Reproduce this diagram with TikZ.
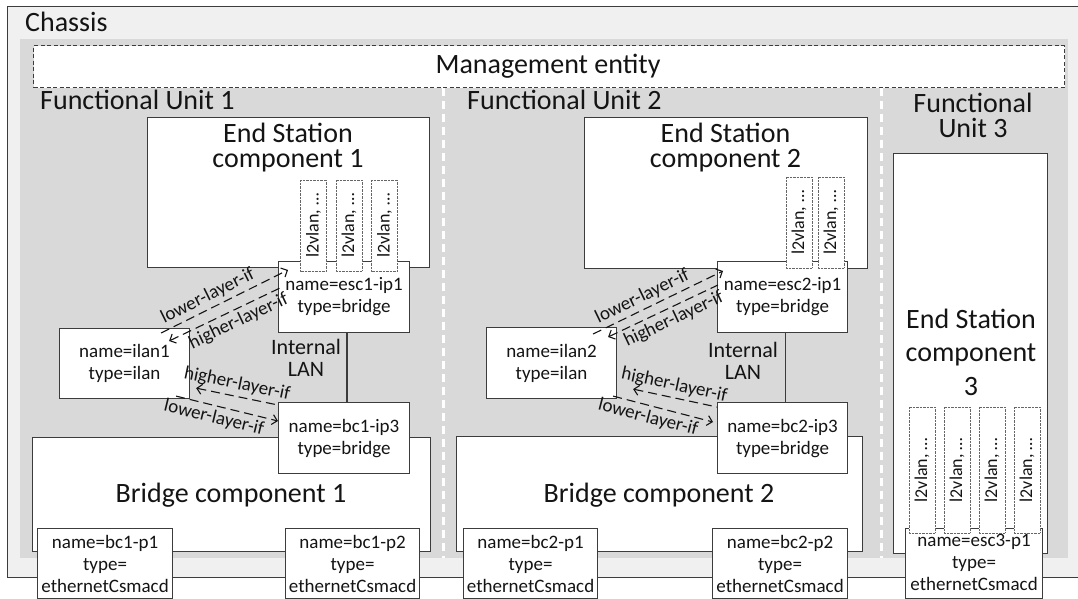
\documentclass[tikz,border=0pt]{standalone}
\usepackage{fontspec}
\setmainfont{Carlito}
\usetikzlibrary{arrows.meta}
\definecolor{chassisfill}{HTML}{F0F0F0}
\definecolor{fugray}{HTML}{D9D9D9}
\definecolor{edge}{HTML}{3C3C3C}
\definecolor{ink}{HTML}{141414}
\begin{document}
\begin{tikzpicture}[x=1pt,y=-1pt,
  area/.style={anchor=north west, inner sep=0pt},
  box/.style={draw=edge, fill=white, line width=1.1pt, inner sep=0pt, align=center, text=ink},
  port/.style={box, anchor=north west, font=\fontsize{19}{22}\selectfont},
  bigtxt/.style={inner sep=0pt, text=ink, align=center, font=\fontsize{28}{25}\selectfont},
  lantxt/.style={inner sep=0pt, text=ink, align=center, font=\fontsize{22}{22}\selectfont},
  vlan/.style={draw=black!60, dash pattern=on 0.7pt off 0.7pt, line width=0.8pt, fill=white,
               rotate=90, inner sep=0pt, text=ink, font=\fontsize{18}{20}\selectfont,
               minimum height=26pt},
  sep/.style={draw=white, line width=3pt, dash pattern=on 8pt off 5pt},
  lanline/.style={draw=edge, line width=1.2pt},
  conn/.style={draw=ink, line width=1.1pt, dash pattern=on 9pt off 5pt},
  tipend/.style={-{Straight Barb[length=5pt,width=10pt]}},
  tipstart/.style={{Straight Barb[length=5pt,width=10pt]}-},
  lbl/.style={sloped, inner sep=3.5pt, text=ink, font=\fontsize{19}{22}\selectfont}
]
\useasboundingbox (0,0) rectangle (1078,599);

% chassis and functional unit area
\node[area, draw=edge, line width=1.2pt, fill=chassisfill, minimum width=1090pt, minimum height=571pt] (chassis) at (7,6) {};
\node[area, fill=fugray, minimum width=1048pt, minimum height=519pt] (fuarea) at (20,39) {};
\node[anchor=base west, inner sep=0pt, text=ink, font=\fontsize{28}{30}\selectfont] (chassislbl) at (25,32) {Chassis};

% management entity
\node[area, draw=edge, fill=white, line width=1.1pt, dash pattern=on 4pt off 2.5pt,
      minimum width=1031pt, minimum height=42pt] (mgmt) at (33,45) {};
\node[anchor=base, inner sep=0pt, text=ink, font=\fontsize{28}{30}\selectfont] (mgmtlbl) at (548,74) {Management entity};

% separators between functional units
\draw[sep] (mgmt.south -| 443,0) -- (fuarea.south -| 443,0);
\draw[sep] (mgmt.south -| 881,0) -- (fuarea.south -| 881,0);

% functional unit labels
\node[anchor=base west, inner sep=0pt, text=ink, font=\fontsize{28}{30}\selectfont] (fu1lbl) at (40,110) {Functional Unit 1};
\node[anchor=base west, inner sep=0pt, text=ink, font=\fontsize{28}{30}\selectfont] (fu2lbl) at (467,110) {Functional Unit 2};
\node[bigtxt] (fu3lbl) at (973,115.7) {Functional\\Unit 3};

% end station components
\node[box, anchor=north west, minimum width=282pt, minimum height=150pt] (es1) at (147,117) {};
\node[bigtxt] (es1lbl) at (288,147.5) {End Station\\component 1};
\node[box, anchor=north west, minimum width=283pt, minimum height=151pt] (es2) at (584,117) {};
\node[bigtxt] (es2lbl) at (725.5,147.5) {End Station\\component 2};
\node[box, anchor=north west, minimum width=154pt, minimum height=400pt] (es3) at (893,153) {};
\node[bigtxt, font=\fontsize{28}{33.5}\selectfont] (es3lbl) at (971,352) {End Station\\component\\3};

% bridge components
\node[box, anchor=north west, minimum width=398pt, minimum height=114pt] (brc1) at (32,437) {};
\node[anchor=base, inner sep=0pt, text=ink, font=\fontsize{28}{30}\selectfont] (brc1lbl) at (231,502) {Bridge component 1};
\node[box, anchor=north west, minimum width=406pt, minimum height=115pt] (brc2) at (456,436) {};
\node[anchor=base, inner sep=0pt, text=ink, font=\fontsize{28}{30}\selectfont] (brc2lbl) at (659,502) {Bridge component 2};

% ports FU1
\node[port, minimum width=131pt, minimum height=71pt] (esc1) at (278,261) {name=esc1-ip1\\type=bridge};
\node[port, minimum width=131pt, minimum height=71pt] (bc1ip3) at (278,402) {name=bc1-ip3\\type=bridge};
\node[port, minimum width=130pt, minimum height=70pt] (ilan1) at (59,328) {name=ilan1\\type=ilan};
\node[port, minimum width=135pt, minimum height=70pt] (bc1p1) at (37,528) {name=bc1-p1\\type=\\ethernetCsmacd};
\node[port, minimum width=134pt, minimum height=70pt] (bc1p2) at (285,528) {name=bc1-p2\\type=\\ethernetCsmacd};

% ports FU2
\node[port, minimum width=130pt, minimum height=71pt] (esc2) at (717,261) {name=esc2-ip1\\type=bridge};
\node[port, minimum width=130pt, minimum height=71pt] (bc2ip3) at (717,402) {name=bc2-ip3\\type=bridge};
\node[port, minimum width=130pt, minimum height=71pt] (ilan2) at (486,327) {name=ilan2\\type=ilan};
\node[port, minimum width=134pt, minimum height=70pt] (bc2p1) at (463,528) {name=bc2-p1\\type=\\ethernetCsmacd};
\node[port, minimum width=135pt, minimum height=70pt] (bc2p2) at (712,528) {name=bc2-p2\\type=\\ethernetCsmacd};

% port FU3
\node[port, minimum width=137pt, minimum height=70pt, text depth=3pt] (esc3p1) at (905,528) {name=esc3-p1\\type=\\ethernetCsmacd};

% internal LANs
\draw[lanline] ([xshift=3pt]esc1.south) -- ([xshift=3pt]bc1ip3.north);
\node[lantxt] (lan1lbl) at (306,358.3) {Internal\\LAN};
\draw[lanline] ([xshift=3pt]esc2.south) -- ([xshift=3pt]bc2ip3.north);
\node[lantxt] (lan2lbl) at (743,361.3) {Internal\\LAN};

% l2vlan interfaces
\node[vlan, minimum width=91pt] (v11) at (313.5,225.5) {l2vlan, …};
\node[vlan, minimum width=91pt] (v12) at (349,225.5) {l2vlan, …};
\node[vlan, minimum width=91pt] (v13) at (384.5,225.5) {l2vlan, …};
\node[vlan, minimum width=91pt] (v21) at (799,222.5) {l2vlan, …};
\node[vlan, minimum width=91pt] (v22) at (831,222.5) {l2vlan, …};
\node[vlan, minimum width=126pt] (v31) at (922,470) {l2vlan, …};
\node[vlan, minimum width=126pt] (v32) at (957,470) {l2vlan, …};
\node[vlan, minimum width=126pt] (v33) at (992,470) {l2vlan, …};
\node[vlan, minimum width=126pt] (v34) at (1027,470) {l2vlan, …};

% layer relations FU1
\draw[conn, tipend] ([xshift=-29pt,yshift=-5pt]ilan1.north east) -- node[lbl, above, pos=0.41] {lower-layer-if} ([xshift=10pt,yshift=-9pt]esc1.north west);
\draw[conn, tipstart] ([xshift=-21pt,yshift=-13pt]ilan1.north east) -- node[lbl, below, pos=0.58] {higher-layer-if} ([xshift=2pt,yshift=-27pt]esc1.north west);
\draw[conn, tipstart] ([xshift=6pt,yshift=11pt]ilan1.south east) -- node[lbl, above, pos=0.47] {higher-layer-if} ([yshift=-3pt]bc1ip3.north west);
\draw[conn, tipend] ([xshift=-14pt,yshift=3pt]ilan1.south east) -- node[lbl, below, pos=0.4] {lower-layer-if} ([yshift=-19pt]bc1ip3.north west);

% layer relations FU2
\draw[conn, tipend] ([xshift=-24pt,yshift=-7pt]ilan2.north east) -- node[lbl, above, pos=0.42] {lower-layer-if} ([xshift=6pt,yshift=-10pt]esc2.north west);
\draw[conn, tipstart] ([xshift=-9pt,yshift=-10pt]ilan2.north east) -- node[lbl, below, pos=0.55] {higher-layer-if} ([xshift=1pt,yshift=-24pt]esc2.north west);
\draw[conn, tipstart] ([xshift=16pt,yshift=10pt]ilan2.south east) -- node[lbl, above, pos=0.46] {higher-layer-if} ([yshift=-5pt]bc2ip3.north west);
\draw[conn, tipend] ([xshift=-4pt,yshift=3pt]ilan2.south east) -- node[lbl, below, pos=0.38] {lower-layer-if} ([xshift=-4pt,yshift=-20pt]bc2ip3.north west);
\end{tikzpicture}
\end{document}
